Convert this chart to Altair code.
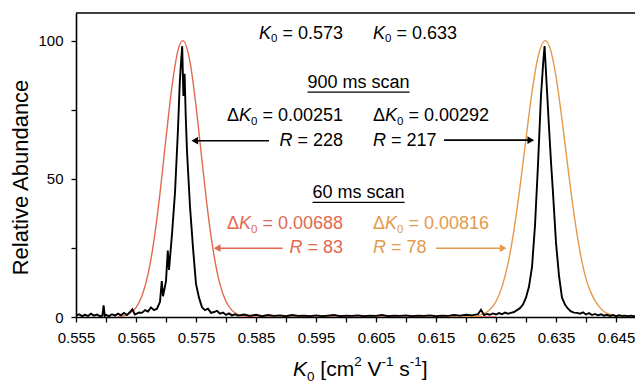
import altair as alt
import pandas as pd

# ---------------- data ----------------
x_ticks = [0.555, 0.560, 0.565, 0.570, 0.575, 0.580, 0.585, 0.590, 0.595, 0.600,
           0.605, 0.610, 0.615, 0.620, 0.625, 0.630, 0.635, 0.640, 0.645]
x_tick_labels = ["0.555", "0.565", "0.575", "0.585", "0.595", "0.605", "0.615",
                 "0.625", "0.635", "0.645"]
y_ticks = [0, 25, 50, 75, 100]
y_tick_labels = ["0", "50", "100"]

# 60 ms scan (red, K0 = 0.573)
red_k = [0.562, 0.563, 0.564, 0.565, 0.566, 0.567, 0.568, 0.569, 0.570, 0.571, 0.572,
         0.5728, 0.574, 0.575, 0.576, 0.577, 0.578, 0.579, 0.580, 0.581, 0.582, 0.583,
         0.584, 0.586, 0.600, 0.625]
red_v = [0.15, 0.5, 1.4, 3.4, 7.7, 15.4, 27.8, 44.8, 64.7, 83.5, 96.5,
         100, 92.3, 76.4, 56.6, 37.5, 22.3, 11.8, 5.6, 2.4, 0.9, 0.3,
         0.1, 0, 0, 0]

# 60 ms scan (orange, K0 = 0.633)
orange_k = [0.615, 0.620, 0.621, 0.622, 0.623, 0.624, 0.625, 0.626, 0.627, 0.628, 0.629,
            0.630, 0.631, 0.632, 0.6332, 0.634, 0.635, 0.636, 0.637, 0.638, 0.639,
            0.640, 0.641, 0.642, 0.643, 0.644, 0.645, 0.646, 0.648, 0.650]
orange_v = [0, 0.06, 0.17, 0.47, 1.2, 2.7, 5.6, 10.9, 19.3, 31.5, 47.0,
            64.5, 81.3, 94.0, 100, 97.3, 87.1, 71.5, 53.9, 37.3, 23.7,
            13.9, 8.0, 4.3, 2.0, 0.9, 0.4, 0.1, 0, 0]

# 900 ms scan (black trace), in pieces
blk_base1_k = [0.5550, 0.5555, 0.5560, 0.5565, 0.5570, 0.5575, 0.5580, 0.5585, 0.5590,
               0.5594, 0.5596, 0.5598, 0.5600, 0.5605, 0.5610, 0.5615, 0.5620, 0.5625,
               0.5630, 0.5635, 0.5640, 0.5644, 0.5648, 0.5655]
blk_base1_v = [0.5, 1.0, 0.3, 0.8, 0.4, 1.2, 0.5, 0.9, 0.3,
               0.5, 4.2, 0.4, 0.8, 0.3, 1.0, 0.5, 1.2, 0.6,
               1.5, 0.7, 1.8, 2.8, 0.9, 1.6]
blk_peak1_k = [0.5660, 0.5665, 0.5670, 0.5675, 0.5680, 0.5685, 0.5690, 0.5693, 0.5695,
               0.5700, 0.5703, 0.5705, 0.5710, 0.5715, 0.5720, 0.5723, 0.5725, 0.5727,
               0.5729, 0.5731, 0.5733, 0.5735, 0.5740, 0.5745, 0.5750, 0.5755, 0.5760,
               0.5765, 0.5770, 0.5775]
blk_peak1_v = [1.5, 2.5, 2.0, 3.5, 2.5, 3.0, 5.5, 13, 7.5,
               13, 24, 17, 30, 45, 68, 85, 92, 98,
               80, 88, 72, 60, 40, 25, 12, 7, 3.5,
               2.5, 3.0, 1.5]
blk_base2_k = [0.5780, 0.5785, 0.5790, 0.5795, 0.5800, 0.5805, 0.5810, 0.5815, 0.5820,
               0.583, 0.584, 0.585, 0.586, 0.587, 0.588, 0.589, 0.590, 0.591, 0.592,
               0.593, 0.594, 0.595, 0.596, 0.597, 0.598, 0.599, 0.600, 0.601, 0.602,
               0.603, 0.604, 0.605, 0.606, 0.607, 0.608, 0.609, 0.610, 0.611, 0.612,
               0.613, 0.614, 0.615, 0.616, 0.617, 0.618, 0.619, 0.620, 0.621, 0.622,
               0.6225, 0.623, 0.6235, 0.624, 0.6245, 0.625, 0.6255, 0.626, 0.6265]
blk_base2_v = [1.8, 2.2, 1.2, 1.6, 0.8, 1.3, 0.6, 1.0, 0.5,
               0.9, 0.4, 0.8, 0.3, 0.7, 0.4, 0.6, 0.3, 0.7, 0.4,
               0.5, 0.3, 0.6, 0.3, 0.5, 0.7, 0.3, 0.5, 0.4, 0.6,
               0.3, 0.5, 0.4, 0.7, 0.3, 0.5, 0.4, 0.6, 0.3, 0.5,
               0.4, 0.6, 0.3, 0.5, 0.4, 0.7, 0.5, 0.8, 0.6, 1.0,
               2.6, 0.7, 1.1, 0.8, 1.3, 0.9, 1.4, 1.0, 1.6]
blk_peak2_k = [0.6270, 0.6275, 0.6280, 0.6285, 0.6290, 0.6295, 0.6300, 0.6305, 0.6310,
               0.6315, 0.6320, 0.6325, 0.6329, 0.6331, 0.6333, 0.6335, 0.6338, 0.6342,
               0.6345, 0.6350, 0.6355, 0.6360, 0.6365, 0.6370, 0.6375, 0.6380, 0.6385]
blk_peak2_v = [1.2, 1.5, 1.8, 2.5, 3.2, 4.5, 7, 11, 18,
               33, 55, 80, 93, 98, 90, 82, 70, 55,
               45, 27, 15, 7, 4.5, 3, 2, 1.6, 1.5]
blk_base3_k = [0.6390, 0.6395, 0.6400, 0.6405, 0.6410, 0.6415, 0.6420, 0.6425, 0.6430,
               0.6435, 0.6440, 0.6445, 0.6450, 0.6455, 0.6460, 0.6465, 0.6470, 0.6475,
               0.6480, 0.6490]
blk_base3_v = [1.2, 1.7, 0.9, 1.4, 0.7, 1.1, 0.6, 1.0, 0.5,
               0.8, 0.4, 0.7, 0.3, 0.6, 0.4, 0.5, 0.3, 0.5,
               0.3, 0.4]

# annotation texts
peak_labels = ["0.573", "0.633"]
fwhm_900 = ["0.00251", "0.00292"]
res_900 = ["228", "217"]
fwhm_60 = ["0.00688", "0.00816"]
res_60 = ["83", "78"]
scan_titles = ["900 ms scan", "60 ms scan"]

# annotation anchors (K0 value, abundance)
left_col_k = 0.5995      # right edge of left column
right_col_k = 0.6045     # left edge of right column
center_k = 0.6021
row_v = [102.5, 84.8, 72.8, 63.8, 44.9, 33.7, 24.9]

# arrows: tail, tip, level
arrow_tail_k = [0.58717, 0.61633, 0.58945, 0.61500]
arrow_tip_k = [0.57405, 0.63155, 0.57778, 0.62695]
arrow_v = [63.8, 64.0, 24.9, 24.9]

# ---------------- styling ----------------
RED = "#E2694F"
ORANGE = "#E49A4C"
FONT = "Liberation Sans, Arial, Helvetica, sans-serif"
XMIN, XMAX = 0.555, 0.64817
YMIN, YMAX = 0, 110
W, H = 559, 304
PXK = W / (XMAX - XMIN)
PXV = H / (YMAX - YMIN)

xs = alt.Scale(domain=[XMIN, XMAX], nice=False, zero=False)
ys = alt.Scale(domain=[YMIN, YMAX], nice=False, zero=False)

xlab_arr = "[" + ",".join("'%s'" % s for s in x_tick_labels) + "]"
ylab_arr = "[" + ",".join("'%s'" % s for s in y_tick_labels) + "]"

xaxis = alt.Axis(values=x_ticks, title=None, grid=False,
                 labelExpr="indexof(%s, format(datum.value, '.3f')) >= 0 ? format(datum.value, '.3f') : ''" % xlab_arr,
                 domainColor="black", domainWidth=1.6, tickColor="black", tickWidth=1.3,
                 tickSize=5, labelFont=FONT, labelFontSize=15, labelColor="black",
                 labelPadding=8, labelOverlap=False, labelFlush=False)
yaxis = alt.Axis(values=y_ticks, grid=False,
                 labelExpr="indexof(%s, format(datum.value, 'd')) >= 0 ? format(datum.value, 'd') : ''" % ylab_arr,
                 domainColor="black", domainWidth=1.6, tickColor="black", tickWidth=1.3,
                 tickSize=5, labelFont=FONT, labelFontSize=15, labelColor="black",
                 labelPadding=8, labelOverlap=False,
                 title="Relative Abundance", titleFont=FONT, titleFontSize=22,
                 titleFontWeight="normal", titleColor="black", titleAngle=270,
                 titleAlign="center", titleBaseline="alphabetic", titleX=-49, titleY=164)


def X(field="k"):
    return alt.X(field + ":Q", scale=xs, axis=xaxis)


def Y(field="v"):
    return alt.Y(field + ":Q", scale=ys, axis=yaxis)


def line_layer(ks, vs, color, width, interp="linear"):
    df = pd.DataFrame({"k": ks, "v": vs, "o": list(range(len(ks)))})
    return alt.Chart(df).mark_line(color=color, strokeWidth=width, interpolate=interp,
                                   clip=True).encode(x=X(), y=Y(), order="o:Q")


AW = {"0": .556, "1": .556, "2": .556, "3": .556, "4": .556, "5": .556, "6": .556,
      "7": .556, "8": .556, "9": .556, ".": .278, " ": .278, "=": .584, "\u0394": .668,
      "K": .667, "R": .722, "m": .833, "s": .5, "c": .5, "a": .556, "n": .556,
      "[": .278, "]": .278, "V": .667, "-": .333}


def tw(s, size):
    return sum(AW.get(ch, .556) for ch in s) * size


def rich(xk, segs, color, size=18, align="left", v=None, ypx=None):
    items = []
    for t, kind in segs:
        fs = size * 0.64 if kind in ("sub", "sup") else size
        body = t.lstrip(" ")
        lead = tw(" " * (len(t) - len(body)), fs)
        items.append((body, kind, fs, lead, tw(body, fs)))
    total = sum(it[3] + it[4] for it in items)
    cur = {"left": 0, "center": -total / 2, "right": -total}[align]
    out = []
    for body, kind, fs, lead, w in items:
        cur += lead
        dy = 0.32 * size if kind == "sub" else (-0.36 * size if kind == "sup" else 0)
        df = pd.DataFrame({"k": [xk], "v": [v if v is not None else 0], "t": [body]})
        yenc = Y() if ypx is None else alt.value(ypx)
        out.append(alt.Chart(df).mark_text(
            align="left", baseline="middle", dx=cur, dy=dy, fontSize=fs,
            fontStyle="italic" if kind == "i" else "normal", font=FONT, color=color
        ).encode(x=X(), y=yenc, text="t:N"))
        cur += w
    return out, total


layers = []
# curves
layers.append(line_layer(red_k, red_v, RED, 1.4, "monotone"))
layers.append(line_layer(orange_k, orange_v, ORANGE, 1.4, "monotone"))
blk_k = blk_base1_k + blk_peak1_k + blk_base2_k + blk_peak2_k + blk_base3_k
blk_v = blk_base1_v + blk_peak1_v + blk_base2_v + blk_peak2_v + blk_base3_v
layers.append(line_layer(blk_k, blk_v, "black", 1.9))

# top frame line
layers.append(alt.Chart(pd.DataFrame({"a": [0]})).mark_rule(color="black", strokeWidth=1.6)
              .encode(x=alt.value(0), x2=alt.value(W), y=alt.value(0)))

# K0 labels
for i, (lab, col) in enumerate(zip(peak_labels, ["black", "black"])):
    segs = [("K", "i"), ("0", "sub"), (" = " + lab, "n")]
    if i == 0:
        l, _ = rich(left_col_k, segs, col, align="right", v=row_v[0])
    else:
        l, _ = rich(right_col_k, segs, col, align="left", v=row_v[0])
    layers += l

# scan titles with underline
for title, v in zip(scan_titles, [row_v[1], row_v[4]]):
    l, w = rich(center_k, [(title, "n")], "black", align="center", v=v)
    layers += l
    df = pd.DataFrame({"k": [center_k - w / 2 / PXK], "k2": [center_k + w / 2 / PXK],
                       "v": [v - 9.5 / PXV]})
    layers.append(alt.Chart(df).mark_rule(color="black", strokeWidth=1.2)
                  .encode(x=X(), x2="k2:Q", y=Y()))

# delta K0 and R labels
groups = [(fwhm_900, res_900, ["black", "black"], row_v[2], row_v[3]),
          (fwhm_60, res_60, [RED, ORANGE], row_v[5], row_v[6])]
for fw, rs, cols, v1, v2 in groups:
    for i in range(2):
        s1 = [("\u0394", "n"), ("K", "i"), ("0", "sub"), (" = " + fw[i], "n")]
        s2 = [("R", "i"), (" = " + rs[i], "n")]
        if i == 0:
            l1, _ = rich(left_col_k, s1, cols[i], align="right", v=v1)
            l2, _ = rich(left_col_k, s2, cols[i], align="right", v=v2)
        else:
            l1, _ = rich(right_col_k, s1, cols[i], align="left", v=v1)
            l2, _ = rich(right_col_k, s2, cols[i], align="left", v=v2)
        layers += l1 + l2

# arrows
arrow_cols = ["black", "black", RED, ORANGE]
for tail, tip, v, col in zip(arrow_tail_k, arrow_tip_k, arrow_v, arrow_cols):
    direction = 1 if tip > tail else -1
    df = pd.DataFrame({"k": [tail], "k2": [tip - direction * 3 / PXK], "v": [v]})
    layers.append(alt.Chart(df).mark_rule(color=col, strokeWidth=1.6)
                  .encode(x=X(), x2="k2:Q", y=Y()))
    dh = pd.DataFrame({"k": [tip - direction * 4.5 / PXK], "v": [v]})
    layers.append(alt.Chart(dh).mark_point(
        shape="triangle-right" if direction > 0 else "triangle-left",
        filled=True, size=60, color=col, opacity=1, strokeWidth=0)
        .encode(x=X(), y=Y()))

# x axis title (rich text)
xt_segs = [("K", "i"), ("0", "sub"), (" [cm", "n"), ("2", "sup"), (" V", "n"),
           ("-1", "sup"), (" s", "n"), ("-1", "sup"), ("]", "n")]
l, _ = rich(0.59117, xt_segs, "black", size=21, align="left", ypx=H + 53)
layers += l

chart = alt.layer(*layers).properties(
    width=W, height=H,
    autosize=alt.AutoSizeParams(type="none"),
    padding={"left": 68, "top": 5, "right": 0, "bottom": 67},
    background="white",
).configure_view(stroke=None)

chart.save("out.html", embed_options={"renderer": "svg", "actions": False})
